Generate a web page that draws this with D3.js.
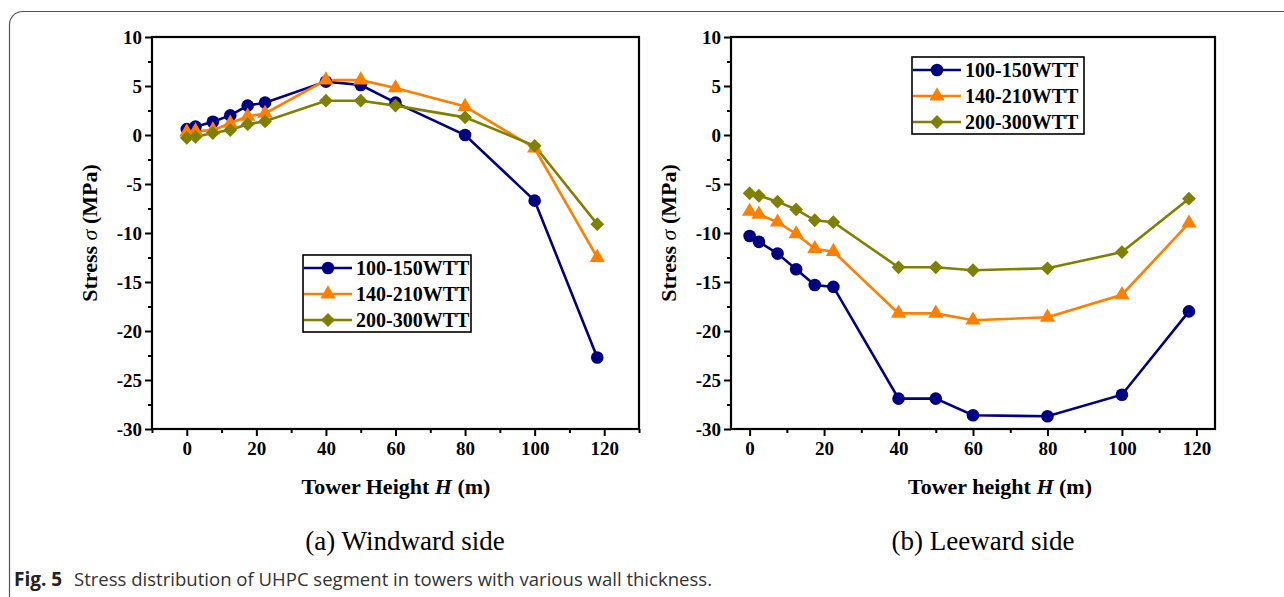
<!DOCTYPE html>
<html>
<head>
<meta charset="utf-8">
<script src="https://cdn.jsdelivr.net/npm/d3@7"></script>
<style>
body { margin: 0; background: #fff; }
svg { display: block; }
</style>
</head>
<body>
<div id="fig"></div>
<script>
// tower height of the sampled sections (m)
var towerHeight = [0, 2.5, 7.5, 12.5, 17.5, 22.5, 40, 50, 60, 80, 100, 118];
var seriesNames = ["100-150WTT", "140-210WTT", "200-300WTT"];

// (a) windward side, stress in MPa
var windward100 = [0.6, 0.85, 1.35, 2.0, 3.0, 3.3, 5.45, 5.1, 3.3, 0.0, -6.7, -22.7];
var windward140 = [0.3, 0.4, 0.5, 1.2, 1.9, 2.2, 5.6, 5.6, 4.8, 2.9, -1.35, -12.5];
var windward200 = [-0.3, -0.2, 0.2, 0.5, 1.1, 1.4, 3.5, 3.5, 3.0, 1.8, -1.1, -9.1];

// (b) leeward side, stress in MPa
var leeward100 = [-10.3, -10.9, -12.1, -13.7, -15.3, -15.5, -26.9, -26.9, -28.6, -28.7, -26.5, -18.0];
var leeward140 = [-7.8, -8.1, -8.9, -10.1, -11.6, -11.9, -18.2, -18.2, -18.9, -18.6, -16.3, -9.0];
var leeward200 = [-5.95, -6.2, -6.8, -7.6, -8.7, -8.9, -13.5, -13.5, -13.8, -13.6, -11.95, -6.5];

var yTicks = [10, 5, 0, -5, -10, -15, -20, -25, -30];
var xTicks = [0, 20, 40, 60, 80, 100, 120];

var colors = ["#000080", "#ff7f00", "#808000"];
var symbols = [d3.symbolCircle, d3.symbolTriangle, d3.symbolSquare];
var symSize = [125, 100, 95];
var serif = "'Liberation Serif','Times New Roman',serif";

var svgWidth = 1284, svgHeight = 597;

var svg = d3.select("#fig")
    .append("svg")
    .attr("width", svgWidth)
    .attr("height", svgHeight)

// frame round the figure
svg.append("rect")
    .attr("x", 9.5)
    .attr("y", 11.5)
    .attr("width", 1320)
    .attr("height", 598)
    .attr("rx", 13)
    .attr("fill", "none")
    .attr("stroke", "#555")
    .attr("stroke-width", 1.2)

function marker(sel, i) {
    sel.attr("d", d3.symbol().type(symbols[i]).size(symSize[i]))
        .attr("fill", colors[i])
    if (i == 2) sel.attr("transform", function () {
        return d3.select(this).attr("transform") + " rotate(45)"
    })
}

function drawPanel(p) {
    var x = d3.scaleLinear().domain(p.xDomain).range([p.left, p.right])
    var y = d3.scaleLinear().domain([-30, 10]).range([p.bottom, p.top])

    var g = svg.append("g")

    // minor ticks
    var xMinor = d3.range(-10, p.xDomain[1] + 1, 20)
        .filter(function (v) { return v >= p.xDomain[0] })
    var yMinor = d3.range(-27.5, 10, 5)

    g.append("g")
        .attr("transform", `translate(0,${p.bottom})`)
        .call(d3.axisBottom(x).tickValues(xMinor).tickSize(4).tickSizeOuter(0).tickFormat(""))
        .call(function (a) { a.select(".domain").remove() })

    g.append("g")
        .attr("transform", `translate(${p.left},0)`)
        .call(d3.axisLeft(y).tickValues(yMinor).tickSize(4).tickSizeOuter(0).tickFormat(""))
        .call(function (a) { a.select(".domain").remove() })

    var bottomAxis = g.append("g")
        .attr("transform", `translate(0,${p.bottom})`)
        .call(d3.axisBottom(x).tickValues(xTicks).tickSize(7).tickSizeOuter(0).tickPadding(6)
            .tickFormat(function (d) { return String(d) }))
    bottomAxis.select(".domain").remove()

    var leftAxis = g.append("g")
        .attr("transform", `translate(${p.left},0)`)
        .call(d3.axisLeft(y).tickValues(yTicks).tickSize(7).tickSizeOuter(0).tickPadding(3)
            .tickFormat(function (d) { return String(d) }))
    leftAxis.select(".domain").remove()

    g.selectAll(".tick line").attr("stroke-width", 2).attr("stroke", "#000")
    g.selectAll(".tick text")
        .attr("font-family", serif)
        .attr("font-weight", "bold")
        .attr("font-size", 19)
        .attr("fill", "#000")

    // plot box
    g.append("rect")
        .attr("x", p.left)
        .attr("y", p.top)
        .attr("width", p.right - p.left)
        .attr("height", p.bottom - p.top)
        .attr("fill", "none")
        .attr("stroke", "#000")
        .attr("stroke-width", 2.2)

    var line = d3.line()
        .x(function (d, i) { return x(towerHeight[i]) })
        .y(function (d) { return y(d) })

    p.series.forEach(function (vals, i) {
        g.append("path")
            .datum(vals)
            .attr("d", line)
            .attr("fill", "none")
            .attr("stroke", colors[i])
            .attr("stroke-width", 2.6)
    })
    p.series.forEach(function (vals, i) {
        g.selectAll(null)
            .data(vals)
            .enter()
            .append("path")
            .attr("transform", function (d, k) { return `translate(${x(towerHeight[k])},${y(d)})` })
            .each(function () { marker(d3.select(this), i) })
    })

    // legend
    var lg = g.append("g").attr("transform", `translate(${p.legend[0]},${p.legend[1]})`)
    lg.append("rect")
        .attr("x", 0).attr("y", 0)
        .attr("width", p.legend[2]).attr("height", 77)
        .attr("fill", "#fff")
        .attr("stroke", "#000")
        .attr("stroke-width", 1.6)
    seriesNames.forEach(function (name, i) {
        var ry = 13 + i * 26
        lg.append("line")
            .attr("x1", 1).attr("x2", 49)
            .attr("y1", ry).attr("y2", ry)
            .attr("stroke", colors[i])
            .attr("stroke-width", 2.6)
        lg.append("path")
            .attr("transform", `translate(25,${ry})`)
            .each(function () { marker(d3.select(this), i) })
        lg.append("text")
            .attr("x", 53)
            .attr("y", ry + 7)
            .attr("font-family", serif)
            .attr("font-weight", "bold")
            .attr("font-size", 20)
            .text(name)
    })

    // axis titles
    var xt = g.append("text")
        .attr("x", p.xTitleX)
        .attr("y", 494)
        .attr("text-anchor", "middle")
        .attr("font-family", serif)
        .attr("font-weight", "bold")
        .attr("font-size", 22)
    xt.append("tspan").text(p.xTitle + " ")
    xt.append("tspan").attr("font-style", "italic").text("H")
    xt.append("tspan").text(" (m)")

    var yt = g.append("text")
        .attr("transform", `translate(${p.left - 55},${(p.top + p.bottom) / 2}) rotate(-90)`)
        .attr("text-anchor", "middle")
        .attr("font-family", serif)
        .attr("font-weight", "bold")
        .attr("font-size", 22)
    yt.append("tspan").text("Stress ")
    yt.append("tspan").attr("font-style", "italic").attr("font-weight", "normal").text("σ")
    yt.append("tspan").text(" (MPa)")

    g.append("text")
        .attr("x", p.subX)
        .attr("y", 550)
        .attr("text-anchor", "middle")
        .attr("font-family", serif)
        .attr("font-size", 27)
        .text(p.subtitle)
}

drawPanel({
    left: 152, right: 639, top: 37, bottom: 429,
    xDomain: [-10, 130],
    series: [windward100, windward140, windward200],
    legend: [303, 255, 168],
    xTitle: "Tower Height", xTitleX: 396,
    subtitle: "(a) Windward side", subX: 405
})

drawPanel({
    left: 731, right: 1215, top: 37, bottom: 429,
    xDomain: [-5, 125],
    series: [leeward100, leeward140, leeward200],
    legend: [912, 57, 172],
    xTitle: "Tower height", xTitleX: 1000,
    subtitle: "(b) Leeward side", subX: 983
})

// caption
var cap = svg.append("text")
    .attr("x", 14)
    .attr("y", 586)
    .attr("font-family", "'Open Sans','Noto Sans',sans-serif")
    .attr("font-size", 18)
    .attr("fill", "#222")
cap.append("tspan").attr("font-weight", "bold").attr("font-size", 19).text("Fig. 5")
cap.append("tspan").attr("x", 74).attr("fill", "#333")
    .attr("textLength", 638).attr("lengthAdjust", "spacingAndGlyphs")
    .text("Stress distribution of UHPC segment in towers with various wall thickness.")
</script>
</body>
</html>
